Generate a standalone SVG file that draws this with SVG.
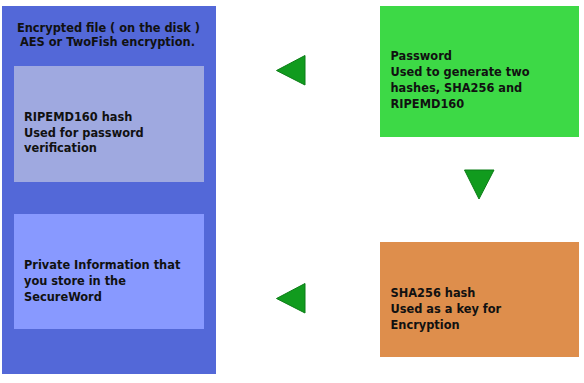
<svg xmlns="http://www.w3.org/2000/svg" width="584" height="383" viewBox="0 0 584 383">
<style>
text{font-family:"DejaVu Sans","Verdana",sans-serif;font-weight:bold;font-size:11.4px;fill:#111}
.tri{fill:#119b1e;stroke:#0b7d16;stroke-width:1}
</style>
<rect width="584" height="383" fill="#ffffff"/>
<g id="encrypted-file">
<rect x="2" y="6" width="214" height="368" fill="#5368d8"/>
<text x="108.5" y="31.5" text-anchor="middle">Encrypted file ( on the disk )</text>
<text x="107.5" y="45.5" text-anchor="middle">AES or TwoFish encryption.</text>
</g>
<g id="ripemd-hash">
<rect x="14" y="66" width="190" height="116" fill="#9fa9e0"/>
<text x="24" y="121">RIPEMD160 hash</text>
<text x="24" y="136.5">Used for password</text>
<text x="24" y="152">verification</text>
</g>
<g id="private-info">
<rect x="14" y="214" width="190" height="115" fill="#8899ff"/>
<text x="24" y="269">Private Information that</text>
<text x="24" y="284.7">you store in the</text>
<text x="24" y="300.5">SecureWord</text>
</g>
<g id="password">
<rect x="380" y="6" width="199" height="131" fill="#3dd946"/>
<text x="390.5" y="60">Password</text>
<text x="390.5" y="76">Used to generate two</text>
<text x="390.5" y="92">hashes, SHA256 and</text>
<text x="390.5" y="108.3">RIPEMD160</text>
</g>
<g id="sha256-hash">
<rect x="380" y="242" width="199" height="115" fill="#de8e4c"/>
<text x="390.5" y="297">SHA256 hash</text>
<text x="390.5" y="313">Used as a key for</text>
<text x="390.5" y="329">Encryption</text>
</g>
<g id="connectors">
<polygon class="tri" points="305,55.5 305,85 276.5,70.5"/>
<polygon class="tri" points="464.5,170 494,170 479,199"/>
<polygon class="tri" points="305,283.5 305,313 276.5,298.5"/>
</g>
</svg>
